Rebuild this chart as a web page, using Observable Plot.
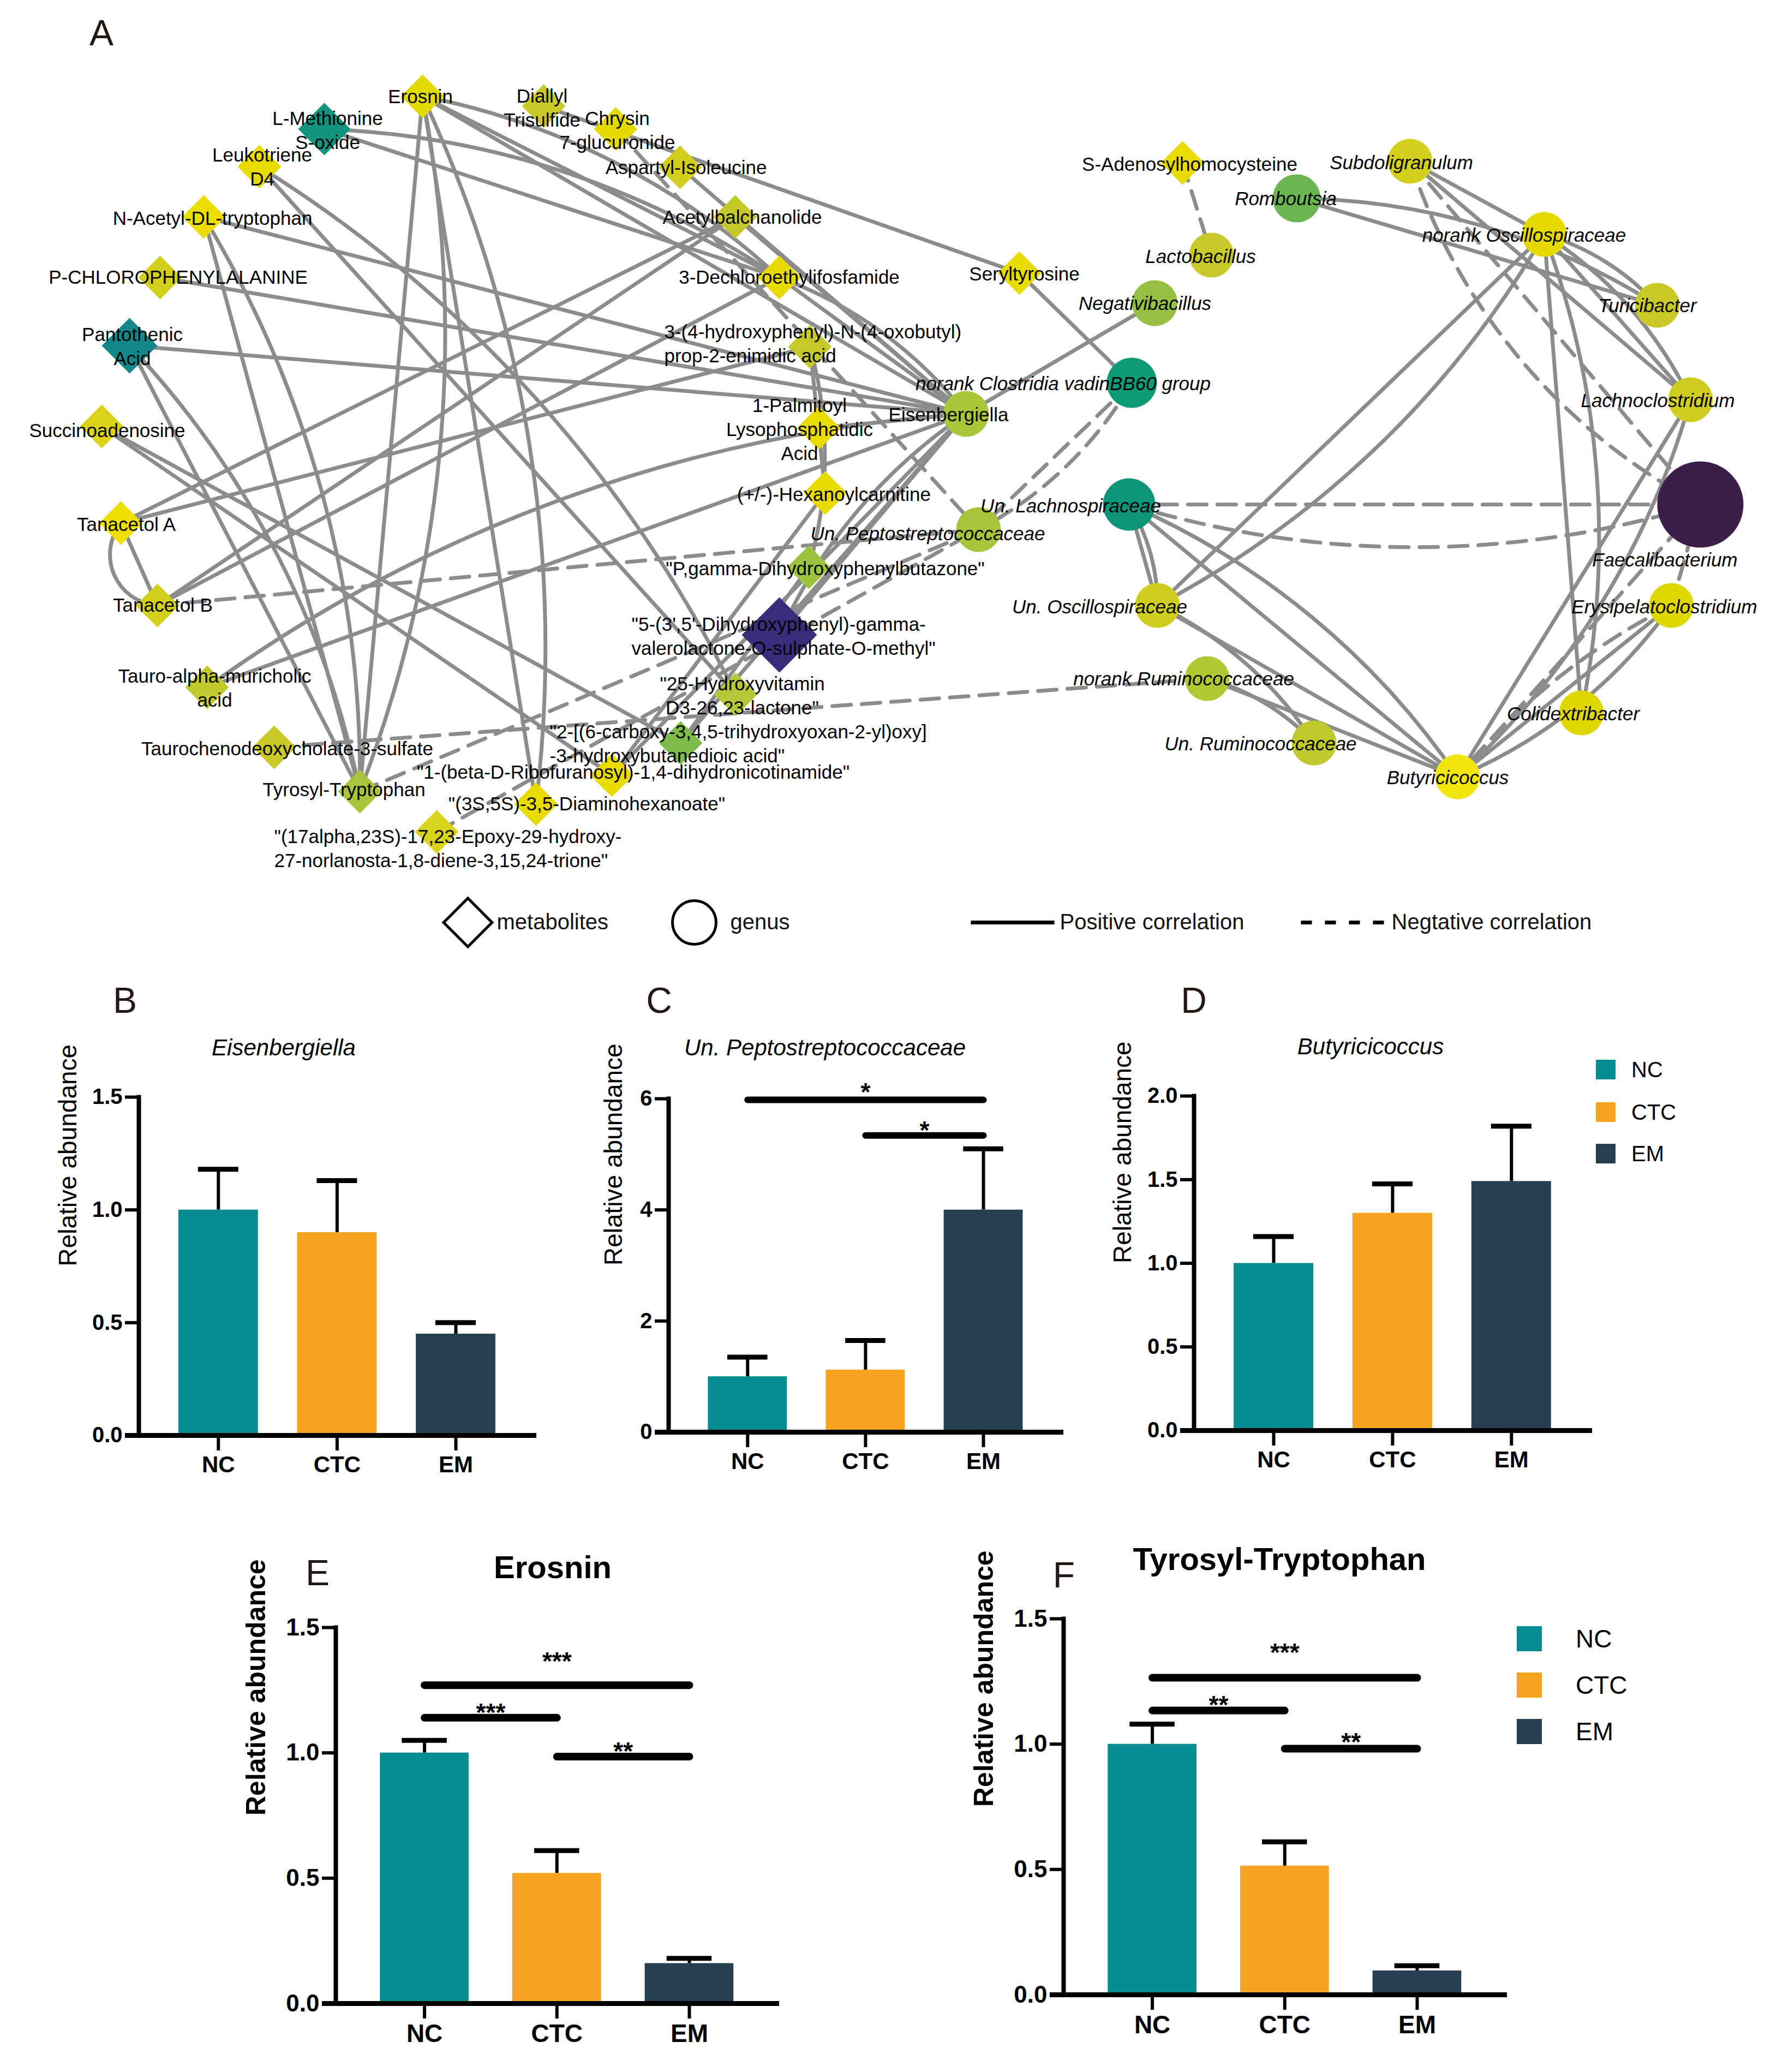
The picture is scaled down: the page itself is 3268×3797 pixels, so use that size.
<!DOCTYPE html>
<html><head><meta charset="utf-8">
<script src="https://cdn.jsdelivr.net/npm/d3@7"></script>
<script src="https://cdn.jsdelivr.net/npm/@observablehq/plot@0.6"></script>
<style>
body{margin:0;background:#fff;}
#page{position:relative;width:3268px;height:3797px;background:#fff;font-family:"Liberation Sans",Arial,sans-serif;overflow:hidden;color:#000;}
.abs{position:absolute;white-space:nowrap;line-height:1;}
</style></head><body><div id="page"></div>
<script>
// ---------------- DATA ----------------
// network nodes: [id, label]
const metaboliteNodes = [
 ["EROS","Erosnin"],["LMET","L-Methionine\nS-oxide"],["DIAL","Diallyl\nTrisulfide"],["CHRY","Chrysin\n7-glucuronide"],
 ["LEUK","Leukotriene\nD4"],["ASPI","Aspartyl-Isoleucine"],["NACT","N-Acetyl-DL-tryptophan"],["ACET","Acetylbalchanolide"],
 ["PCHL","P-CHLOROPHENYLALANINE"],["DECH","3-Dechloroethylifosfamide"],["SERY","Seryltyrosine"],["PANT","Pantothenic\nAcid"],
 ["HPOX","3-(4-hydroxyphenyl)-N-(4-oxobutyl)\nprop-2-enimidic acid"],["SUCC","Succinoadenosine"],
 ["PALM","1-Palmitoyl\nLysophosphatidic\nAcid"],["HEXA","(+/-)-Hexanoylcarnitine"],["TANA","Tanacetol A"],["TANB","Tanacetol B"],
 ["PGAM","\"P,gamma-Dihydroxyphenylbutazone\""],["DHPV","\"5-(3',5'-Dihydroxyphenyl)-gamma-\nvalerolactone-O-sulphate-O-methyl\""],
 ["TAUR","Tauro-alpha-muricholic\nacid"],["HVIT","\"25-Hydroxyvitamin\nD3-26,23-lactone\""],["TCDS","Taurochenodeoxycholate-3-sulfate"],
 ["CARB","\"2-[(6-carboxy-3,4,5-trihydroxyoxan-2-yl)oxy]\n-3-hydroxybutanedioic acid\""],["TYTR","Tyrosyl-Tryptophan"],
 ["RIBO","\"1-(beta-D-Ribofuranosyl)-1,4-dihydronicotinamide\""],["DIAM","\"(3S,5S)-3,5-Diaminohexanoate\""],
 ["EPOX","\"(17alpha,23S)-17,23-Epoxy-29-hydroxy-\n27-norlanosta-1,8-diene-3,15,24-trione\""],["SADH","S-Adenosylhomocysteine"]
];
const genusNodes = [
 ["PEPT","Un. Peptostreptococcaceae"],["EISE","Eisenbergiella"],["VADI","norank Clostridia vadinBB60 group"],["NEGA","Negativibacillus"],
 ["LACT","Lactobacillus"],["ROMB","Romboutsia"],["SUBD","Subdoligranulum"],["NOSC","norank Oscillospiraceae"],["TURI","Turicibacter"],
 ["LACH","Lachnoclostridium"],["FAEC","Faecalibacterium"],["ULAC","Un. Lachnospiraceae"],["UOSC","Un. Oscillospiraceae"],
 ["NRUM","norank Ruminococcaceae"],["URUM","Un. Ruminococcaceae"],["BUTY","Butyricicoccus"],["COLI","Colidextribacter"],["ERYS","Erysipelatoclostridium"]
];
// edges: [source, target, sign (+ positive / - negative), parallel index]
const edges = [
 ["EROS","TYTR","+",0],["EROS","TYTR","+",1],["EROS","DIAM","+",0],["EROS","DIAM","+",1],
 ["EROS","DECH","+",0],["EROS","DECH","+",1],["EROS","EISE","+",0],
 ["LMET","DECH","+",0],["LMET","DECH","+",1],["LEUK","HVIT","+",0],["LEUK","HVIT","+",1],
 ["NACT","TYTR","+",0],["NACT","TYTR","+",1],["NACT","EISE","+",0],["PCHL","EISE","+",0],["PANT","EISE","+",0],
 ["PANT","TYTR","+",0],["PANT","TYTR","+",1],["SUCC","CARB","+",0],["SUCC","RIBO","+",0],
 ["TANA","TANB","+",0],["TANA","TANB","+",1],["TANA","ACET","+",0],["TANA","HPOX","+",0],
 ["TANB","ACET","+",0],["TANB","DECH","+",0],["TANB","PEPT","-",0],
 ["TAUR","EISE","+",0],["TAUR","EISE","+",1],["TCDS","NRUM","-",0],["TYTR","PEPT","-",0],["EPOX","PEPT","-",0],
 ["ASPI","EISE","+",0],["ACET","EISE","+",0],["CHRY","PEPT","-",0],["DIAL","SERY","+",0],["SERY","VADI","+",0],
 ["NEGA","EISE","+",0],["HPOX","HEXA","+",0],["HPOX","PGAM","+",1],["DECH","EISE","+",0],["DECH","EISE","+",1],
 ["PALM","EISE","+",0],["DHPV","EISE","+",0],["DHPV","EISE","+",1],["CARB","EISE","+",0],["RIBO","EISE","+",0],
 ["HEXA","RIBO","+",0],["PGAM","CARB","+",0],["VADI","PEPT","-",0],["VADI","PEPT","-",1],["SADH","LACT","-",0],
 ["ROMB","TURI","+",0],["ROMB","TURI","+",1],["SUBD","NOSC","+",0],["SUBD","LACH","+",0],
 ["SUBD","FAEC","-",0],["SUBD","FAEC","-",1],["NOSC","TURI","+",1],["NOSC","LACH","+",0],["NOSC","LACH","+",1],
 ["NOSC","UOSC","+",0],["NOSC","UOSC","+",1],["NOSC","COLI","+",0],["NOSC","COLI","+",1],
 ["LACH","BUTY","+",0],["LACH","BUTY","+",1],["ULAC","FAEC","-",0],["ULAC","FAEC","-",1],
 ["ULAC","UOSC","+",0],["ULAC","UOSC","+",1],["ULAC","BUTY","+",0],["ULAC","BUTY","+",1],
 ["UOSC","URUM","+",1],["UOSC","BUTY","+",0],["NRUM","URUM","+",1],["NRUM","BUTY","+",0],
 ["ERYS","BUTY","+",0],["ERYS","BUTY","+",1],["ERYS","BUTY","-",2],["FAEC","BUTY","-",0],["FAEC","ERYS","-",0]
];
// node shade (viridis-like value colour)
const nodeShade = {
 EROS:"#e2d900",LMET:"#14937c",DIAL:"#c9c92a",CHRY:"#e4d900",LEUK:"#e8db00",ASPI:"#d2cd1e",NACT:"#ecdd00",ACET:"#c5c82b",
 PCHL:"#d3cf1c",DECH:"#e6da00",SERY:"#e8db00",PANT:"#14878a",HPOX:"#c5c92b",SUCC:"#dbd31a",PALM:"#e8db00",HEXA:"#e8db00",
 TANA:"#efdf00",TANB:"#d3cf1e",PGAM:"#9dc43f",DHPV:"#3b2c7b",TAUR:"#c2c92e",HVIT:"#b4c737",TCDS:"#c9ca28",CARB:"#7dbb4a",
 TYTR:"#a9c43a",RIBO:"#e8db00",DIAM:"#e8db00",EPOX:"#d8d31c",SADH:"#e8db00",
 PEPT:"#a7c43b",EISE:"#a9c53a",VADI:"#0e9a77",NEGA:"#95c043",LACT:"#c8ca2a",ROMB:"#6bb552",SUBD:"#d4cf1d",NOSC:"#e5da00",
 TURI:"#c9ca28",LACH:"#d1cd20",FAEC:"#3b1f49",ULAC:"#0e9479",UOSC:"#d0cd22",NRUM:"#b1c733",URUM:"#bfc92d",BUTY:"#f1e70c",
 COLI:"#e1d700",ERYS:"#e1d700"
};

// bar-chart data
const groups = ["NC","CTC","EM"];
const eisenMean = [1.00, 0.90, 0.45],  eisenSD = [0.18, 0.23, 0.05];
const peptoMean = [1.00, 1.12, 4.00],  peptoSD = [0.35, 0.53, 1.10];
const butyMean  = [1.00, 1.30, 1.49],  butySD  = [0.16, 0.175, 0.33];
const erosMean  = [1.00, 0.52, 0.16],  erosSD  = [0.05, 0.09, 0.02];
const tytrMean  = [1.00, 0.514, 0.096], tytrSD = [0.08, 0.096, 0.02];
// significance: [from, to, label, bar level, label level]
const peptoSig = [[0,2,"*",5.98,6.23],[1,2,"*",5.34,5.54]];
const erosSig  = [[0,2,"***",1.27,1.39],[0,1,"***",1.14,1.185],[1,2,"**",0.985,1.03]];
const tytrSig  = [[0,2,"***",1.265,1.39],[0,1,"**",1.134,1.18],[1,2,"**",0.982,1.032]];
const yTicks15 = [0,0.5,1.0,1.5], yTicks6 = [0,2,4,6], yTicks2 = [0,0.5,1.0,1.5,2.0];

// ---------------- LAYOUT / STYLE ----------------
const FONT = "Liberation Sans, Arial, sans-serif";
const groupColors = ["#068b91","#f6a320","#27404f"];
const layout = {
 EROS:[774,176],LMET:[594,236],DIAL:[996,194],CHRY:[1128,236],LEUK:[475,305],ASPI:[1246,306],NACT:[373,397],ACET:[1347,397],
 PCHL:[293,508],DECH:[1428,508],SERY:[1868,500],PANT:[237,633],HPOX:[1484,635],SUCC:[186,781],PALM:[1500,784],HEXA:[1512,903],
 TANA:[221,958],TANB:[288,1109],PGAM:[1482,1039],DHPV:[1428,1163],TAUR:[379,1259],HVIT:[1348,1272],TCDS:[502,1369],CARB:[1247,1361],
 TYTR:[659,1450],RIBO:[1121,1420],DIAM:[982,1473],EPOX:[800,1524],SADH:[2167,298],
 PEPT:[1793,970],EISE:[1770,758],VADI:[2074,701],NEGA:[2116,555],LACT:[2220,467],ROMB:[2376,363],SUBD:[2584,295],NOSC:[2830,429],
 TURI:[3037,559],LACH:[3098,732],FAEC:[3116,924],ULAC:[2069,924],UOSC:[2121,1109],NRUM:[2212,1243],URUM:[2408,1361],
 BUTY:[2671,1423],COLI:[2898,1306],ERYS:[3063,1109]
};
const labelLayout = {
 EROS:[770,174],LMET:[600,236],DIAL:[993,195],CHRY:[1131,236],LEUK:[480,303],ASPI:[1257,304],NACT:[389,397],ACET:[1360,395],
 PCHL:[326,505],DECH:[1446,505],SERY:[1877,499],PANT:[242,632],HPOX:[1217,627,"start"],SUCC:[196,786],PALM:[1465,784],
 HEXA:[1528,903],TANA:[231,958],TANB:[298,1106],PGAM:[1512,1039],DHPV:[1157,1163,"start"],TAUR:[393,1258],HVIT:[1360,1272],
 TCDS:[526,1369],CARB:[1007,1360,"start"],TYTR:[630,1444],RIBO:[1160,1412],DIAM:[1075,1470],EPOX:[502,1552,"start"],SADH:[2180,298],
 PEPT:[1700,975],EISE:[1738,757],VADI:[1948,700],NEGA:[2098,553],LACT:[2200,467],ROMB:[2356,361],SUBD:[2568,295],NOSC:[2793,428],
 TURI:[3019,557],LACH:[3038,731],FAEC:[3051,1023],ULAC:[1962,924],UOSC:[2015,1109],NRUM:[2169,1241],URUM:[2310,1360],
 BUTY:[2653,1422],COLI:[2883,1305],ERYS:[3050,1109]
};
const nodeSize = {LMET:48,PANT:51,DHPV:69,VADI:46,ULAC:48,ROMB:44,FAEC:79,NEGA:42,EISE:42};
const uprightGenus = new Set(["EISE"]);
const bendFor = (e) => {
  const key = e[0]+"-"+e[1];
  if (key === "TANA-TANB" && e[3] === 1) return -62;
  if (key === "ULAC-FAEC" && e[3] === 1) return -17;
  if (key === "SUBD-FAEC" && e[3] === 1) return -22;
  return e[3] === 1 ? 16 : e[3] === 2 ? -12 : 0;
};

const page = document.getElementById("page");
function addText(txt, x, y, css, anchor = "middle") {
  const d = document.createElement("div");
  d.className = "abs";
  d.textContent = txt;
  d.style.left = x + "px"; d.style.top = y + "px";
  d.style.transform = anchor === "middle" ? "translate(-50%,-50%)" : "translate(0,-50%)";
  Object.assign(d.style, css);
  page.appendChild(d);
}
function place(svg, left, top) {
  svg.style.position = "absolute"; svg.style.left = left + "px"; svg.style.top = top + "px";
  page.appendChild(svg);
}

// ---------------- NETWORK ----------------
const nodes = [
  ...metaboliteNodes.map(([id,label]) => ({id, label, kind:"metabolite"})),
  ...genusNodes.map(([id,label]) => ({id, label, kind:"genus"}))
].map(n => ({...n, x: layout[n.id][0], y: layout[n.id][1],
   lx: labelLayout[n.id][0], ly: labelLayout[n.id][1], anchor: labelLayout[n.id][2] || "middle",
   italic: n.kind === "genus" && !uprightGenus.has(n.id),
   size: nodeSize[n.id] || (n.kind === "metabolite" ? 40 : 41)}));
const edgeRows = edges.map(e => ({s:e[0], t:e[1], sign:e[2], k:e[3], bend: bendFor(e),
   x1: layout[e[0]][0], y1: layout[e[0]][1], x2: layout[e[1]][0], y2: layout[e[1]][1]}));
const bends = [...new Set(edgeRows.map(d => d.bend))];
const edgeMarks = [];
for (const b of bends) {
  for (const sign of ["+","-"]) {
    const rows = edgeRows.filter(d => d.bend === b && d.sign === sign);
    if (!rows.length) continue;
    edgeMarks.push(Plot.arrow(rows, {x1:"x1", y1:"y1", x2:"x2", y2:"y2", bend: b, headLength: 0,
      stroke:"#8c8c8c", strokeWidth: 7, strokeDasharray: sign === "-" ? "34,20" : null}));
  }
}
const legendShapes = [{label:"metabolites", symbol:"diamond2", x:857, tx:910}, {label:"genus", symbol:"circle", x:1272, tx:1338}];
const legendLines = [{label:"Positive correlation", x1:1779, x2:1932, tx:1942, dash:null},
                     {label:"Negtative correlation", x1:2384, x2:2537, tx:2550, dash:"20,24"}];
const LEGY = 1690;
const labelOpts = {x:"lx", y:"ly", text:"label", lineAnchor:"middle", fontSize: 35, lineHeight: 1.26, fill:"#000"};

const net = Plot.plot({
  width: 3268, height: 1760, margin: 0,
  x: {domain:[0,3268], range:[0,3268], axis:null},
  y: {domain:[0,1760], range:[0,1760], axis:null},
  r: {type:"identity"},
  style: {fontFamily: FONT, background:"transparent", overflow:"visible"},
  marks: [
    ...edgeMarks,
    Plot.dot(nodes.filter(d => d.kind === "metabolite"), {x:"x", y:"y", r: d => d.size/1.11, symbol:"diamond2", fill: d => nodeShade[d.id]}),
    Plot.dot(nodes.filter(d => d.kind === "genus"), {x:"x", y:"y", r:"size", symbol:"circle", fill: d => nodeShade[d.id]}),
    Plot.text(nodes.filter(d => d.anchor === "middle" && !d.italic), {...labelOpts, textAnchor:"middle"}),
    Plot.text(nodes.filter(d => d.anchor === "middle" && d.italic), {...labelOpts, textAnchor:"middle", fontStyle:"italic"}),
    Plot.text(nodes.filter(d => d.anchor === "start"), {...labelOpts, textAnchor:"start"}),
    // legend
    Plot.dot(legendShapes, {x:"x", y: () => LEGY, symbol:"symbol", r: 40, fill:"none", stroke:"#000", strokeWidth: 5}),
    Plot.text(legendShapes, {x:"tx", y: () => LEGY, text:"label", textAnchor:"start", fontSize: 40, fill:"#111"}),
    Plot.link(legendLines.filter(d => !d.dash), {x1:"x1", x2:"x2", y1: () => LEGY, y2: () => LEGY, stroke:"#000", strokeWidth: 7}),
    Plot.link(legendLines.filter(d => d.dash), {x1:"x1", x2:"x2", y1: () => LEGY, y2: () => LEGY, stroke:"#000", strokeWidth: 7, strokeDasharray:"20,24"}),
    Plot.text(legendLines, {x:"tx", y: () => LEGY, text:"label", textAnchor:"start", fontSize: 40, fill:"#111"})
  ]
});
place(net, 0, 0);

// ---------------- BAR PANELS ----------------
function barPanel(o) {
  const [fl, fr, ft, fb] = o.frame;
  const W = o.width, H = o.height;
  const rows = groups.map((g,i) => ({g, i, mean:o.mean[i], sd:o.sd[i]}));
  const sig = (o.sig || []).map(([a,b,label,y,ly]) => ({a,b,label,y,ly}));
  const p = Plot.plot({
    width: W, height: H,
    marginLeft: fl - o.left, marginRight: o.left + W - fr, marginTop: ft - o.top, marginBottom: o.top + H - fb,
    x: {domain:[-0.67, 2.68]},
    y: {domain:[0, o.yMax]},
    color: {domain: groups, range: groupColors},
    style: {fontFamily: FONT, background:"transparent", overflow:"visible", color:"#000"},
    marks: [
      Plot.ruleX(rows, {x:"i", y1:"mean", y2: d => d.mean + d.sd, stroke:"#000", strokeWidth: 6}),
      Plot.ruleY(rows, {y: d => d.mean + d.sd, x1: d => d.i - 0.17, x2: d => d.i + 0.17, stroke:"#000", strokeWidth: 9}),
      Plot.rect(rows, {x1: d => d.i - 0.335, x2: d => d.i + 0.335, y1: 0, y2: "mean", fill:"g"}),
      Plot.frame({anchor:"left", stroke:"#000", strokeWidth: 8}),
      Plot.ruleY([0], {stroke:"#000", strokeWidth: 9, insetLeft: -25}),
      Plot.axisY({ticks: o.ticks, tickFormat: o.fmt, tickSize: 25, tickPadding: 5, fontSize: o.tickFont, fontWeight:"bold", strokeWidth: 6, label: null}),
      Plot.axisX({ticks:[0,1,2], tickFormat: i => groups[i], tickSize: 28, tickPadding: 10, fontSize: o.tickFont + 2, fontWeight:"bold", strokeWidth: 6, label: null}),
      Plot.text(["Relative abundance"], {frameAnchor:"left", rotate:-90, dx: o.titleDx, fontSize: o.labelFont, fontWeight: o.labelWeight}),
      Plot.link(sig, {x1:"a", x2:"b", y1:"y", y2:"y", stroke:"#000", strokeWidth: o.sigWidth, strokeLinecap:"round"}),
      Plot.text(sig, {x: d => (d.a + d.b) / 2, y:"ly", text:"label", fontSize: 46, fontWeight:"bold", dy: 12})
    ]
  });
  place(p, o.left, o.top);
}
const fmt1 = d3.format(".1f");
barPanel({left:60, top:1960, width:1000, height:780, frame:[254,983,2010,2630], yMax:1.5, ticks:yTicks15, fmt:fmt1,
  mean:eisenMean, sd:eisenSD, tickFont:40, labelFont:46, labelWeight:"normal", titleDx:-129, sigWidth:12});
barPanel({left:1040, top:1940, width:970, height:794, frame:[1225,1949,2013,2624], yMax:6, ticks:yTicks6, fmt:d3.format("d"),
  mean:peptoMean, sd:peptoSD, sig:peptoSig, tickFont:40, labelFont:46, labelWeight:"normal", titleDx:-100, sigWidth:12});
barPanel({left:2000, top:1958, width:930, height:773, frame:[2188,2918,2008,2621], yMax:2, ticks:yTicks2, fmt:fmt1,
  mean:butyMean, sd:butySD, tickFont:40, labelFont:46, labelWeight:"normal", titleDx:-130, sigWidth:12});
barPanel({left:400, top:2930, width:1050, height:851, frame:[615,1428,2982,3671], yMax:1.5, ticks:yTicks15, fmt:fmt1,
  mean:erosMean, sd:erosSD, sig:erosSig, tickFont:44, labelFont:50, labelWeight:"bold", titleDx:-146, sigWidth:14});
barPanel({left:1740, top:2914, width:1040, height:851, frame:[1949,2762,2966,3655], yMax:1.5, ticks:yTicks15, fmt:fmt1,
  mean:tytrMean, sd:tytrSD, sig:tytrSig, tickFont:44, labelFont:50, labelWeight:"bold", titleDx:-146, sigWidth:14});

// ---------------- TEXT: letters, titles, legends ----------------
const letterCss = {fontSize:"66px", color:"#231815"};
addText("A", 186, 60, letterCss);
addText("B", 229, 1833, letterCss);
addText("C", 1208, 1833, letterCss);
addText("D", 2188, 1833, letterCss);
addText("E", 582, 2882, letterCss);
addText("F", 1950, 2886, letterCss);
addText("Eisenbergiella", 520, 1920, {fontSize:"42px", fontStyle:"italic"});
addText("Un. Peptostreptococcaceae", 1512, 1920, {fontSize:"42px", fontStyle:"italic"});
addText("Butyricicoccus", 2512, 1918, {fontSize:"42px", fontStyle:"italic"});
addText("Erosnin", 1013, 2872, {fontSize:"58px", fontWeight:"bold"});
addText("Tyrosyl-Tryptophan", 2345, 2857, {fontSize:"58px", fontWeight:"bold"});
function barLegend(x, ys, sq, tx, fs) {
  groups.forEach((g,i) => {
    const s = document.createElement("div");
    s.className = "abs";
    Object.assign(s.style, {left: x+"px", top: (ys[i]-sq/2)+"px", width: sq+"px", height: sq+"px", background: groupColors[i]});
    page.appendChild(s);
    addText(g, tx, ys[i], {fontSize: fs+"px"}, "start");
  });
}
barLegend(2925, [1960,2038,2114], 36, 2990, 40);
barLegend(2780, [3003,3088,3173], 46, 2888, 46);
</script></body></html>
